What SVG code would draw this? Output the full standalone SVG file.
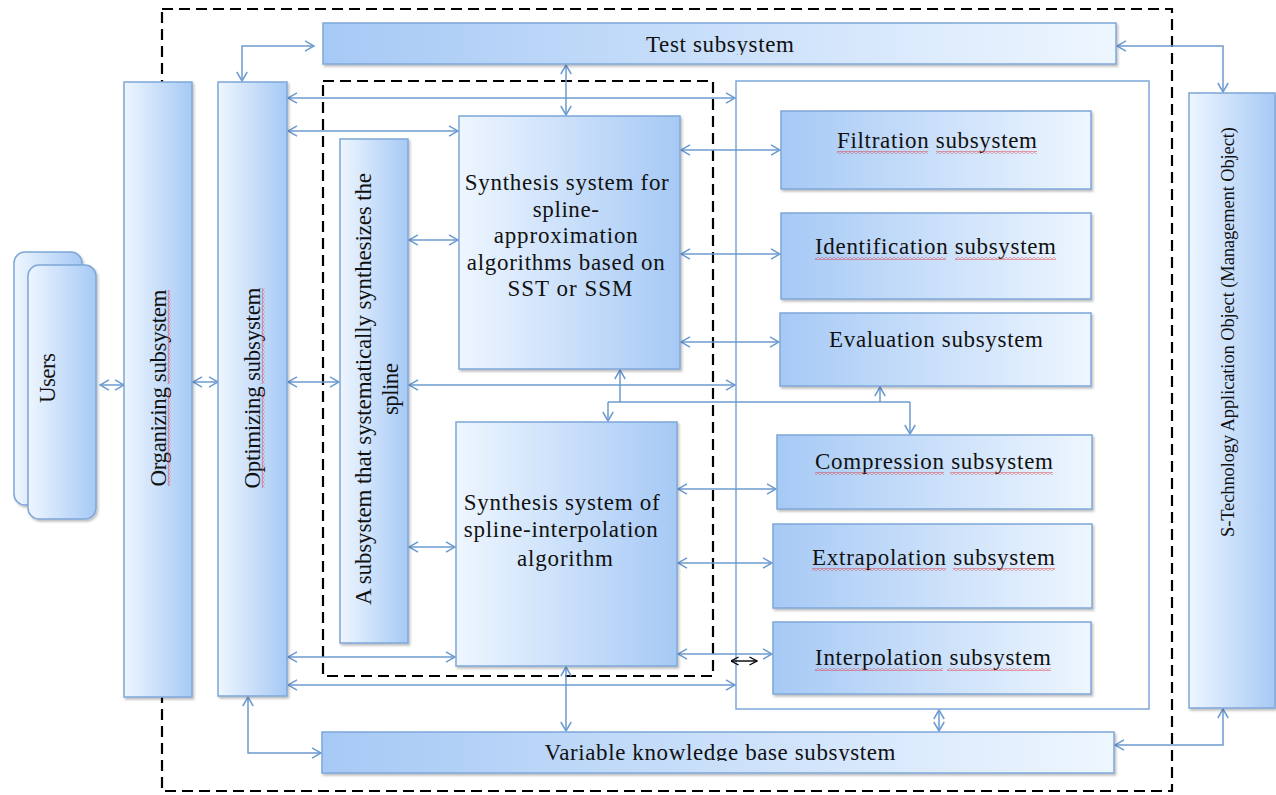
<svg xmlns="http://www.w3.org/2000/svg" width="1276" height="795" viewBox="0 0 1276 795">
<style>
.t{font-family:"Liberation Serif","Times New Roman",serif;font-size:23px;fill:#111;}
.s{font-size:18.5px;}
.bx{stroke:#7ea7d8;stroke-width:1.5;filter:url(#sh);}
.lr{fill:url(#gLR);}
.rl{fill:url(#gRL);}
.dash{fill:none;stroke:#000;stroke-width:2.2;stroke-dasharray:11 6;}
.c{fill:none;stroke:#6d9bd0;stroke-width:1.5;}
.d{marker-start:url(#a);marker-end:url(#a);}
.e{marker-end:url(#a);}
.w{fill:url(#wave);}
</style>
<defs>
<linearGradient id="gLR" x1="0" y1="0" x2="1" y2="0">
<stop offset="0" stop-color="#eef6ff"/><stop offset="1" stop-color="#a6c9f5"/>
</linearGradient>
<linearGradient id="gRL" x1="0" y1="0" x2="1" y2="0">
<stop offset="0" stop-color="#a6c9f5"/><stop offset="1" stop-color="#eef6ff"/>
</linearGradient>
<filter id="sh" x="-10%" y="-10%" width="130%" height="130%">
<feDropShadow dx="1.5" dy="2" stdDeviation="1.2" flood-color="#000" flood-opacity="0.25"/>
</filter>
<marker id="a" viewBox="0 0 11 12" refX="10" refY="6" markerWidth="11" markerHeight="12" markerUnits="userSpaceOnUse" orient="auto-start-reverse">
<path d="M1,0.8 L10,6 L1,11.2" fill="none" stroke="#6d9bd0" stroke-width="1.5"/>
</marker>
<marker id="k" viewBox="0 0 9 10" refX="8.5" refY="5" markerWidth="9" markerHeight="10" markerUnits="userSpaceOnUse" orient="auto-start-reverse">
<path d="M1,1 L8.5,5 L1,9" fill="none" stroke="#000" stroke-width="1.4"/>
</marker>
<pattern id="wave" width="4" height="3" patternUnits="userSpaceOnUse">
<path d="M0,0.6 L2,2.4 L4,0.6" fill="none" stroke="#e03030" stroke-width="0.8"/>
</pattern>
<clipPath id="clipT"><rect x="323" y="23" width="793" height="32"/></clipPath>
<clipPath id="clipV"><rect x="322" y="732" width="792" height="29"/></clipPath>
</defs>

<rect width="1276" height="795" fill="#fff"/>

<g id="frames">
<rect class="dash" x="162" y="9" width="1010" height="782"/>
<rect class="dash" x="323" y="81" width="390" height="595"/>
</g>

<g id="container">
<rect x="736" y="81" width="413" height="628" fill="#fff" stroke="#7ea7d8" stroke-width="1.5"/>
</g>

<g id="connectors">
<path class="c d" d="M100,385 L124,385"/>
<path class="c d" d="M193,382 L218,382"/>
<path class="c d" d="M288,382 L339,382"/>
<path class="c d" d="M288,98 L735,98"/>
<path class="c d" d="M288,131 L458,131"/>
<path class="c d" d="M288,657 L455,657"/>
<path class="c d" d="M288,685 L735,685"/>
<path class="c d" d="M409,240 L458,240"/>
<path class="c d" d="M409,547 L455,547"/>
<path class="c d" d="M409,385 L735,385"/>
<path class="c d" d="M566,65 L566,115"/>
<path class="c d" d="M566,667 L566,731"/>
<path class="c d" d="M681,150 L780,150"/>
<path class="c d" d="M681,254 L780,254"/>
<path class="c d" d="M681,342 L779,342"/>
<path class="c d" d="M678,489 L776,489"/>
<path class="c d" d="M678,563 L772,563"/>
<path class="c d" d="M678,654 L772,654"/>
<path class="c d" d="M939,710 L939,731"/>
<path class="c d" d="M314,46 L242,46 L242,81"/>
<path class="c d" d="M1117,46 L1223,46 L1223,92"/>
<path class="c d" d="M1115,745 L1223,745 L1223,709"/>
<path class="c d" d="M248,697 L248,753 L321,753"/>
<path class="c" d="M608,402 L910,402"/>
<path class="c e" d="M620,402 L620,370"/>
<path class="c e" d="M608,402 L608,421"/>
<path class="c e" d="M880,402 L880,387"/>
<path class="c e" d="M910,402 L910,434"/>
<path d="M731,661 L757,661" fill="none" stroke="#000" stroke-width="1.4" marker-start="url(#k)" marker-end="url(#k)"/>
</g>

<g id="users">
<rect class="bx lr" x="14" y="252" width="68" height="253" rx="11"/>
<rect class="bx lr" x="28" y="265" width="68" height="254" rx="11"/>
<g transform="translate(47,378) rotate(-90)"><text class="t" x="0" y="8" text-anchor="middle" textLength="50">Users</text></g>
</g>

<g id="organizing">
<rect class="bx lr" x="124" y="82" width="68" height="615"/>
<g transform="translate(158,388) rotate(-90)">
<text class="t" x="0" y="8" text-anchor="middle" textLength="197">Organizing subsystem</text>
<rect class="w" x="-98" y="9.5" width="96" height="3"/>
<rect class="w" x="4" y="9.5" width="94" height="3"/>
</g>
</g>

<g id="optimizing">
<rect class="bx lr" x="218" y="82" width="69" height="614"/>
<g transform="translate(252,388) rotate(-90)">
<text class="t" x="0" y="8" text-anchor="middle" textLength="201">Optimizing subsystem</text>
<rect class="w" x="-100" y="9.5" width="98" height="3"/>
<rect class="w" x="4" y="9.5" width="96" height="3"/>
</g>
</g>

<g id="test">
<rect class="bx rl" x="323" y="23" width="793" height="41"/>
<text class="t" x="720" y="52" text-anchor="middle" textLength="148" clip-path="url(#clipT)">Test subsystem</text>
</g>

<g id="spline">
<rect class="bx lr" x="340" y="139" width="68" height="504"/>
<g transform="translate(363,389) rotate(-90)">
<text class="t" x="0" y="8" text-anchor="middle" textLength="432">A subsystem that systematically synthesizes the</text>
</g>
<g transform="translate(390,389) rotate(-90)">
<text class="t" x="0" y="8" text-anchor="middle" textLength="52">spline</text>
</g>
</g>

<g id="approx">
<rect class="bx lr" x="459" y="116" width="221" height="253"/>
<text class="t" text-anchor="middle">
<tspan x="570" y="190" textLength="204">Synthesis system for</tspan>
<tspan x="569" y="216.5" textLength="66">spline-</tspan>
<tspan x="569" y="243" textLength="144">approximation</tspan>
<tspan x="569" y="269.5" textLength="198">algorithms based on</tspan>
<tspan x="570" y="296" textLength="125">SST or SSM</tspan>
</text>
</g>

<g id="interp">
<rect class="bx lr" x="456" y="422" width="221" height="244"/>
<text class="t" text-anchor="middle">
<tspan x="565" y="510" textLength="196">Synthesis system of</tspan>
<tspan x="564" y="537" textLength="194">spline-interpolation</tspan>
<tspan x="565" y="566" textLength="96">algorithm</tspan>
</text>
</g>

<g id="filtration">
<rect class="bx rl" x="781" y="111" width="310" height="78"/>
<text class="t" x="937" y="148" text-anchor="middle" textLength="200">Filtration subsystem</text>
<rect class="w" x="837" y="151" width="91" height="3"/>
<rect class="w" x="936" y="151" width="101" height="3"/>
</g>

<g id="identification">
<rect class="bx rl" x="781" y="213" width="310" height="86"/>
<text class="t" x="935.5" y="254" text-anchor="middle" textLength="241">Identification subsystem</text>
<rect class="w" x="815" y="257" width="131" height="3"/>
<rect class="w" x="955" y="257" width="101" height="3"/>
</g>

<g id="evaluation">
<rect class="bx rl" x="780" y="313" width="311" height="73"/>
<text class="t" x="936" y="347" text-anchor="middle" textLength="214">Evaluation subsystem</text>
</g>

<g id="compression">
<rect class="bx rl" x="777" y="435" width="315" height="74"/>
<text class="t" x="934" y="469" text-anchor="middle" textLength="238">Compression subsystem</text>
<rect class="w" x="815" y="472" width="129" height="3"/>
<rect class="w" x="950" y="472" width="103" height="3"/>
</g>

<g id="extrapolation">
<rect class="bx rl" x="773" y="524" width="319" height="84"/>
<text class="t" x="933.5" y="565" text-anchor="middle" textLength="243">Extrapolation subsystem</text>
<rect class="w" x="812" y="568" width="134" height="3"/>
<rect class="w" x="953" y="568" width="102" height="3"/>
</g>

<g id="interpolation">
<rect class="bx rl" x="773" y="622" width="318" height="72"/>
<text class="t" x="933" y="665" text-anchor="middle" textLength="236">Interpolation subsystem</text>
<rect class="w" x="815" y="668" width="128" height="3"/>
<rect class="w" x="947" y="668" width="104" height="3"/>
</g>

<g id="knowledge">
<rect class="bx rl" x="322" y="732" width="792" height="41"/>
<text class="t" x="720" y="760" text-anchor="middle" textLength="351" clip-path="url(#clipV)">Variable knowledge base subsystem</text>
</g>

<g id="stech">
<rect class="bx lr" x="1189" y="93" width="86" height="615"/>
<g transform="translate(1227,332) rotate(-90)">
<text class="t s" x="0" y="7" text-anchor="middle" textLength="410">S-Technology Application Object (Management Object)</text>
</g>
</g>
</svg>
